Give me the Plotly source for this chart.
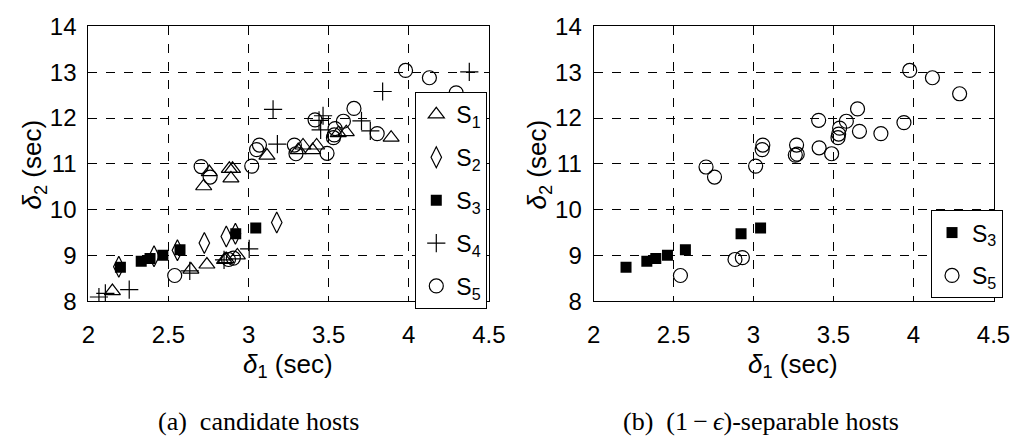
import plotly.graph_objects as go

# ---------------- data ----------------
s1_x = [2.15, 2.64, 2.74, 2.85, 2.86, 2.93, 2.72, 2.755, 2.88, 2.90, 2.89, 3.115, 3.31, 3.34, 3.40, 3.425, 3.56, 3.61, 3.89]
s1_y = [8.22, 8.69, 8.80, 8.90, 8.92, 9.00, 10.51, 10.82, 10.89, 10.89, 10.68, 11.18, 11.30, 11.40, 11.30, 11.40, 11.67, 11.69, 11.57]

s2_x = [2.19, 2.41, 2.556, 2.724, 2.861, 2.918, 3.176]
s2_y = [8.75, 8.98, 9.11, 9.27, 9.41, 9.47, 9.72]

s3_x = [2.20, 2.33, 2.385, 2.465, 2.572, 2.92, 3.045]
s3_y = [8.74, 8.87, 8.93, 9.00, 9.12, 9.47, 9.60]

s4_x = [2.066, 2.106, 2.255, 2.633, 2.847, 3.004, 3.18, 3.153, 3.44, 3.45, 3.465, 3.705, 3.76, 3.837, 4.378]
s4_y = [8.09, 8.17, 8.25, 8.66, 8.90, 9.14, 11.43, 12.19, 11.95, 11.74, 12.05, 11.94, 11.72, 12.58, 13.01]

s5_x = [3.98, 4.129, 4.296, 3.658, 3.415, 3.592, 3.803, 3.54, 3.535, 3.53, 3.068, 3.05, 3.286, 3.296,
        3.49, 2.704, 2.76, 3.02, 2.539, 2.875, 2.905]
s5_y = [13.04, 12.88, 12.55, 12.21, 11.96, 11.93, 11.66, 11.77, 11.63, 11.57, 11.41, 11.31, 11.41, 11.22,
        11.23, 10.94, 10.71, 10.95, 8.56, 8.91, 8.94]

sep3_x = [2.203, 2.333, 2.389, 2.462, 2.574, 2.922, 3.044]
sep3_y = [8.74, 8.87, 8.93, 9.00, 9.12, 9.47, 9.60]

sep5_x = [3.976, 4.118, 4.288, 3.65, 3.407, 3.58, 3.94, 3.538, 3.662, 3.532, 3.796, 3.528, 3.058, 3.054,
          3.269, 3.273, 3.261, 3.41, 3.488, 2.703, 2.756, 3.013, 2.884, 2.93, 2.543]
sep5_y = [13.04, 12.88, 12.53, 12.20, 11.95, 11.93, 11.90, 11.78, 11.71, 11.65, 11.66, 11.57, 11.41, 11.31,
          11.41, 11.21, 11.19, 11.35, 11.22, 10.93, 10.71, 10.95, 8.91, 8.95, 8.56]

x_ticks = [2, 2.5, 3, 3.5, 4, 4.5]
x_tick_text = ["2", "2.5", "3", "3.5", "4", "4.5"]
y_ticks = [8, 9, 10, 11, 12, 13, 14]
y_tick_text = ["8", "9", "10", "11", "12", "13", "14"]

# ---------------- figure ----------------
W, H = 1033, 438
SANS = "Liberation Sans, Arial, sans-serif"
SERIF = "Liberation Serif, Times New Roman, serif"

fig = go.Figure()

LW = 1.2
styles = {
    "S1": dict(symbol="triangle-up-open", size=14, color="black", line=dict(width=LW, color="black")),
    "S2": dict(symbol="diamond-tall-open", size=15, color="black", line=dict(width=LW, color="black")),
    "S3": dict(symbol="square", size=11, color="black", line=dict(width=0, color="black")),
    "S4": dict(symbol="cross-thin-open", size=13, color="black", line=dict(width=LW, color="black")),
    "S5": dict(symbol="circle-open", size=14, color="black", line=dict(width=LW, color="black")),
}

left = [("S1", s1_x, s1_y, "S<sub>1</sub>"), ("S2", s2_x, s2_y, "S<sub>2</sub>"),
        ("S3", s3_x, s3_y, "S<sub>3</sub>"), ("S4", s4_x, s4_y, "S<sub>4</sub>"),
        ("S5", s5_x, s5_y, "S<sub>5</sub>")]
for key, xs, ys, name in left:
    fig.add_trace(go.Scatter(x=xs, y=ys, mode="markers", name=name, marker=styles[key],
                             xaxis="x", yaxis="y", legend="legend", legendgroup="l" + key))

right = [("S3", sep3_x, sep3_y, "S<sub>3</sub>"), ("S5", sep5_x, sep5_y, "S<sub>5</sub>")]
for key, xs, ys, name in right:
    fig.add_trace(go.Scatter(x=xs, y=ys, mode="markers", name=name, marker=styles[key],
                             xaxis="x2", yaxis="y2", legend="legend2", legendgroup="r" + key))

def px_x(p):
    return p / W

def px_y(p):
    return 1 - p / H

TICKFONT = dict(family=SANS, size=24, color="black")
common_x = dict(range=[2, 4.5], tickvals=x_ticks, ticktext=x_tick_text, showgrid=True,
                gridcolor="black", griddash="dash", gridwidth=1, showline=True, linecolor="black",
                linewidth=1, mirror="ticks", ticks="inside", ticklen=5, tickcolor="black",
                tickfont=TICKFONT, zeroline=False, ticklabelstandoff=12,
                ticklabeloverflow="allow")
common_y = dict(range=[8, 14], tickvals=y_ticks, ticktext=y_tick_text, showgrid=True,
                gridcolor="black", griddash="dash", gridwidth=1, showline=True, linecolor="black",
                linewidth=1, mirror="ticks", ticks="inside", ticklen=5, tickcolor="black",
                tickfont=TICKFONT, zeroline=False, ticklabelstandoff=6,
                ticklabeloverflow="allow")

ydom = [px_y(306), px_y(13.3)]
LEGFONT = dict(family=SANS, size=23, color="black")
fig.update_layout(
    width=W, height=H, margin=dict(l=0, r=0, t=0, b=0),
    paper_bgcolor="white", plot_bgcolor="white",
    xaxis=dict(domain=[px_x(83.3), px_x(493.3)], anchor="y", **common_x),
    yaxis=dict(domain=ydom, anchor="x", **common_y),
    xaxis2=dict(domain=[px_x(600.5), px_x(1010)], anchor="y2", **common_x),
    yaxis2=dict(domain=ydom, anchor="x2", **common_y),
    legend=dict(x=px_x(418), y=px_y(83), xanchor="left", yanchor="top",
                bordercolor="black", borderwidth=1, bgcolor="white", font=LEGFONT,
                traceorder="grouped", tracegroupgap=10, itemwidth=30),
    legend2=dict(x=px_x(946), y=px_y(209), xanchor="left", yanchor="top",
                 bordercolor="black", borderwidth=1, bgcolor="white", font=LEGFONT,
                 traceorder="grouped", tracegroupgap=10, itemwidth=30),
    showlegend=True,
)

TITLEFONT = dict(family=SANS, size=26, color="black")
CAPFONT = dict(family=SERIF, size=26, color="black")
ann = []
for cx in [288, 805]:
    ann.append(dict(x=px_x(cx), y=px_y(375), xref="paper", yref="paper", showarrow=False,
                    text="<i>δ</i><sub>1</sub> (sec)", font=TITLEFONT,
                    xanchor="center", yanchor="middle"))
for cx in [27, 544]:
    ann.append(dict(x=px_x(cx), y=px_y(160), xref="paper", yref="paper", showarrow=False,
                    text="<i>δ</i><sub>2</sub> (sec)", textangle=-90, font=TITLEFONT,
                    xanchor="center", yanchor="middle"))
ann.append(dict(x=px_x(257), y=px_y(434), xref="paper", yref="paper", showarrow=False,
                text="(a)\u00a0 candidate hosts", font=CAPFONT,
                xanchor="center", yanchor="middle"))
ann.append(dict(x=px_x(772), y=px_y(434), xref="paper", yref="paper", showarrow=False,
                text="(b)\u00a0\u00a0(1\u2009−\u2009<i>ϵ</i>)-separable hosts", font=CAPFONT,
                xanchor="center", yanchor="middle"))
fig.update_layout(annotations=ann)

fig.write_html("out.html")
